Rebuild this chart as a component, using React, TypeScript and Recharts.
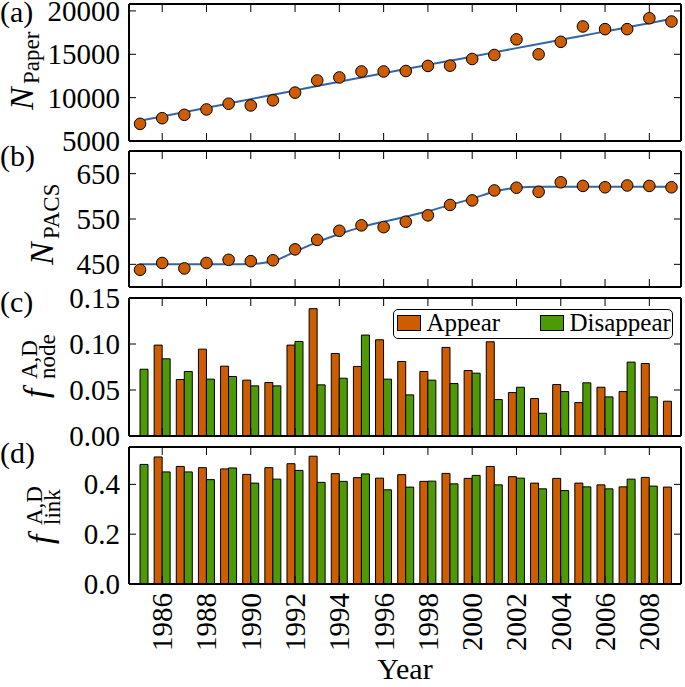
import React from "react";
import { ComposedChart, Line, Scatter, Bar, XAxis, YAxis, Legend } from "recharts";

const FONT = '"Liberation Serif", "Times New Roman", serif';
const ORANGE = "#ce5c00";
const GREEN = "#4e9a06";
const BLUE = "#3465a4";
const INK = "#000";

// years on the shared x axis
const years = [
  1985, 1986, 1987, 1988, 1989, 1990, 1991, 1992, 1993, 1994, 1995, 1996, 1997,
  1998, 1999, 2000, 2001, 2002, 2003, 2004, 2005, 2006, 2007, 2008, 2009,
];
const yearTicks = [1986, 1988, 1990, 1992, 1994, 1996, 1998, 2000, 2002, 2004, 2006, 2008];

// (a) number of papers and fitted trend
const paperCounts = [
  6980, 7630, 8020, 8640, 9300, 9100, 9690, 10580, 11980, 12330, 13020, 13020, 13070,
  13660, 13690, 14460, 14920, 16720, 15000, 16440, 18210, 17900, 17900, 19160, 18780,
];
const paperFit = [
  7330, 7830, 8330, 8830, 9330, 9830, 10330, 10830, 11340, 11840, 12330, 12820, 13300,
  13780, 14260, 14740, 15220, 15710, 16190, 16670, 17150, 17630, 18110, 18590, 19070,
];
const paperTicks = [5000, 10000, 15000, 20000];

// (b) number of PACS codes and fitted trend
const pacsCounts = [
  438, 453, 441, 453, 460, 457, 459, 483, 504, 524, 536, 532, 544,
  558, 581, 591, 613, 619, 610, 631, 623, 620, 624, 623, 620,
];
const pacsFit = [
  450, 450, 450, 450, 450, 451, 457, 478, 499, 517, 532, 544, 555,
  567, 581, 595, 610, 619, 621, 621, 621, 621, 621, 621, 621,
];
const pacsTicks = [450, 550, 650];

// (c) fraction of nodes appearing / disappearing
const nodeAppear = [
  null, 0.0988, 0.0614, 0.0944, 0.0759, 0.0607, 0.0581, 0.0988, 0.1384, 0.0897, 0.0756, 0.1046, 0.081,
  0.0701, 0.0963, 0.0712, 0.1024, 0.0472, 0.0407, 0.0559, 0.0363, 0.053, 0.0483, 0.0788, 0.0378,
];
const nodeDisappear = [
  0.0726, 0.0839, 0.0701, 0.0618, 0.0647, 0.0545, 0.0545, 0.1028, 0.0556, 0.0628, 0.1097, 0.0618, 0.0447,
  0.0607, 0.057, 0.0683, 0.0396, 0.053, 0.0247, 0.0483, 0.0578, 0.0425, 0.0803, 0.0425, null,
];
const nodeTicks = [0, 0.05, 0.1, 0.15];

// (d) fraction of links appearing / disappearing
const linkAppear = [
  null, 0.51, 0.472, 0.467, 0.462, 0.44, 0.467, 0.483, 0.513, 0.443, 0.427, 0.425, 0.439,
  0.412, 0.444, 0.424, 0.472, 0.431, 0.405, 0.424, 0.405, 0.398, 0.39, 0.428, 0.389,
];
const linkDisappear = [
  0.48, 0.45, 0.45, 0.419, 0.466, 0.405, 0.421, 0.456, 0.408, 0.412, 0.442, 0.378, 0.389,
  0.413, 0.402, 0.436, 0.398, 0.425, 0.382, 0.375, 0.39, 0.382, 0.421, 0.393, null,
];
const linkTicks = [0, 0.2, 0.4];

const rows = years.map((year, i) => ({
  year,
  paper: paperCounts[i],
  paperFit: paperFit[i],
  pacs: pacsCounts[i],
  pacsFit: pacsFit[i],
  nodeAppear: nodeAppear[i],
  nodeDisappear: nodeDisappear[i],
  linkAppear: linkAppear[i],
  linkDisappear: linkDisappear[i],
}));

const X_DOMAIN = [1984.5, 2009.43];
const PLOT_LEFT = 129;
const RIGHT_GAP = 4;
const TICK_FS = 29;
const NO_MARGIN = { top: 0, right: 0, bottom: 0, left: 0 };
const AXIS_LINE = { stroke: INK, strokeWidth: 2 };

// matplotlib-style inward ticks
const BottomTick = (p: any) => (
  <g>
    <line x1={p.x} x2={p.x} y1={p.y} y2={p.y - 8} stroke={INK} strokeWidth={1} />
    {p.showLabel && (
      <text
        transform={`translate(${p.x},${p.y + 9}) rotate(-90)`}
        textAnchor="end"
        dominantBaseline="central"
        fontSize={TICK_FS}
        fontFamily={FONT}
        fill={INK}
      >
        {p.payload.value}
      </text>
    )}
  </g>
);

const TopTick = (p: any) => (
  <line x1={p.x} x2={p.x} y1={p.y} y2={p.y + 8} stroke={INK} strokeWidth={1} />
);

const LeftTick = (p: any) => (
  <g>
    <line x1={p.x} x2={p.x + 7} y1={p.y} y2={p.y} stroke={INK} strokeWidth={1} />
    <text
      x={p.x - 9}
      y={p.y}
      textAnchor="end"
      dominantBaseline="central"
      fontSize={TICK_FS}
      fontFamily={FONT}
      fill={INK}
    >
      {p.fmt(p.payload.value)}
    </text>
  </g>
);

const RightTick = (p: any) => (
  <line x1={p.x} x2={p.x - 7} y1={p.y} y2={p.y} stroke={INK} strokeWidth={1} />
);

const Marker = (p: any) => (
  <circle cx={p.cx} cy={p.cy} r={5.8} fill={ORANGE} stroke={INK} strokeWidth={1} />
);

function frame(o: {
  top: number;
  bottom: number;
  domain: number[];
  ticks: number[];
  fmt: (v: number) => string;
  yearLabels?: boolean;
}) {
  return [
    <XAxis
      key="xb"
      dataKey="year"
      type="number"
      domain={X_DOMAIN}
      ticks={yearTicks}
      allowDataOverflow
      interval={0}
      height={o.bottom}
      tickSize={0}
      tickMargin={0}
      tickLine={false}
      axisLine={AXIS_LINE}
      tick={(p: any) => <BottomTick {...p} showLabel={!!o.yearLabels} />}
      label={
        o.yearLabels
          ? { value: "Year", position: "insideBottom", offset: 8, fontSize: 30, fill: INK, fontFamily: FONT }
          : undefined
      }
    />,
    <XAxis
      key="xt"
      xAxisId="top"
      orientation="top"
      dataKey="year"
      type="number"
      domain={X_DOMAIN}
      ticks={yearTicks}
      allowDataOverflow
      interval={0}
      height={o.top}
      tickSize={0}
      tickMargin={0}
      tickLine={false}
      axisLine={AXIS_LINE}
      tick={TopTick}
    />,
    <YAxis
      key="yl"
      type="number"
      domain={o.domain}
      ticks={o.ticks}
      allowDataOverflow
      interval={0}
      width={PLOT_LEFT}
      tickSize={0}
      tickMargin={0}
      tickLine={false}
      axisLine={AXIS_LINE}
      tick={(p: any) => <LeftTick {...p} fmt={o.fmt} />}
    />,
    <YAxis
      key="yr"
      yAxisId="right"
      orientation="right"
      type="number"
      domain={o.domain}
      ticks={o.ticks}
      allowDataOverflow
      interval={0}
      width={RIGHT_GAP}
      tickSize={0}
      tickMargin={0}
      tickLine={false}
      axisLine={AXIS_LINE}
      tick={RightTick}
    />,
  ];
}

function LegendBox({ payload }: any) {
  const items = payload || [];
  const slots = [2.5, 145.5];
  return (
    <div
      style={{
        position: "relative",
        boxSizing: "border-box",
        width: 280,
        height: 30,
        border: "1.5px solid #000",
        borderRadius: 5,
        background: "#fff",
        fontFamily: FONT,
        fontSize: 25,
        color: INK,
      }}
    >
      {items.map((item: any, i: number) => (
        <div
          key={item.value}
          style={{ position: "absolute", left: slots[i], top: 2, height: 22, display: "flex", alignItems: "center" }}
        >
          <span
            style={{
              display: "inline-block",
              width: 24,
              height: 16,
              boxSizing: "border-box",
              background: item.color,
              border: "1px solid #000",
              marginRight: 6,
            }}
          />
          <span style={{ lineHeight: "22px", whiteSpace: "nowrap" }}>{item.value}</span>
        </div>
      ))}
    </div>
  );
}

const fmtInt = (v: number) => String(v);
const fmt2 = (v: number) => v.toFixed(2);
const fmt1 = (v: number) => v.toFixed(1);

export default function App() {
  return (
    <div
      style={{
        position: "absolute",
        left: 0,
        top: 0,
        width: 685,
        height: 687,
        background: "#fff",
        fontFamily: FONT,
        overflow: "hidden",
      }}
    >
      {/* tick labels at the panel edges spill past each chart's own box */}
      <style>{`.recharts-surface { overflow: visible; } .recharts-wrapper { overflow: visible; }`}</style>

      <div style={{ position: "absolute", left: 0, top: 0 }}>
        <ComposedChart width={685} height={147} data={rows} margin={NO_MARGIN}>
          {frame({ top: 4, bottom: 6, domain: [5000, 20800], ticks: paperTicks, fmt: fmtInt })}
          <Line dataKey="paperFit" type="monotone" stroke={BLUE} strokeWidth={2} dot={false} isAnimationActive={false} />
          <Scatter dataKey="paper" shape={Marker} isAnimationActive={false} />
        </ComposedChart>
      </div>

      <div style={{ position: "absolute", left: 0, top: 147 }}>
        <ComposedChart width={685} height={146} data={rows} margin={NO_MARGIN}>
          {frame({ top: 4, bottom: 6, domain: [400, 700], ticks: pacsTicks, fmt: fmtInt })}
          <Line dataKey="pacsFit" type="monotone" stroke={BLUE} strokeWidth={2} dot={false} isAnimationActive={false} />
          <Scatter dataKey="pacs" shape={Marker} isAnimationActive={false} />
        </ComposedChart>
      </div>

      <div style={{ position: "absolute", left: 0, top: 293 }}>
        <ComposedChart width={685} height={149} data={rows} margin={NO_MARGIN} barGap={0}>
          {frame({ top: 5, bottom: 6, domain: [0, 0.15], ticks: nodeTicks, fmt: fmt2 })}
          <Bar dataKey="nodeAppear" name="Appear" fill={ORANGE} stroke={INK} strokeWidth={1} barSize={8} isAnimationActive={false} />
          <Bar dataKey="nodeDisappear" name="Disappear" fill={GREEN} stroke={INK} strokeWidth={1} barSize={8} isAnimationActive={false} />
          <Legend
            layout="vertical"
            align="center"
            verticalAlign="middle"
            wrapperStyle={{ left: 393, top: 16, width: 280, height: 30 }}
            content={(props: any) => <LegendBox payload={props.payload} />}
          />
        </ComposedChart>
      </div>

      <div style={{ position: "absolute", left: 0, top: 442 }}>
        <ComposedChart width={685} height={245} data={rows} margin={NO_MARGIN} barGap={0}>
          {frame({ top: 5, bottom: 103, domain: [0, 0.55], ticks: linkTicks, fmt: fmt1, yearLabels: true })}
          <Bar dataKey="linkAppear" name="Appear" fill={ORANGE} stroke={INK} strokeWidth={1} barSize={8} isAnimationActive={false} />
          <Bar dataKey="linkDisappear" name="Disappear" fill={GREEN} stroke={INK} strokeWidth={1} barSize={8} isAnimationActive={false} />
        </ComposedChart>
      </div>

      <svg
        width={685}
        height={687}
        style={{ position: "absolute", left: 0, top: 0, pointerEvents: "none" }}
        fontFamily={FONT}
        fill={INK}
      >
        <text x={0} y={22} fontSize={30}>(a)</text>
        <text x={0} y={166} fontSize={30}>(b)</text>
        <text x={0} y={312} fontSize={30}>(c)</text>
        <text x={0} y={463} fontSize={30}>(d)</text>

        <g transform="translate(33,110) rotate(-90)">
          <text x={0} y={0} fontSize={34} fontStyle="italic">N</text>
          <text x={26} y={6} fontSize={23}>Paper</text>
        </g>
        <g transform="translate(53,265) rotate(-90)">
          <text x={0} y={0} fontSize={34} fontStyle="italic">N</text>
          <text x={26} y={6} fontSize={23}>PACS</text>
        </g>
        <g transform="translate(47,398) rotate(-90)">
          <text x={0} y={0} fontSize={34} fontStyle="italic">f</text>
          <text x={19} y={-10} fontSize={23}>A,D</text>
          <text x={19} y={8} fontSize={23}>node</text>
        </g>
        <g transform="translate(52,544) rotate(-90)">
          <text x={0} y={0} fontSize={34} fontStyle="italic">f</text>
          <text x={19} y={-10} fontSize={23}>A,D</text>
          <text x={19} y={8} fontSize={23}>link</text>
        </g>
      </svg>
    </div>
  );
}
